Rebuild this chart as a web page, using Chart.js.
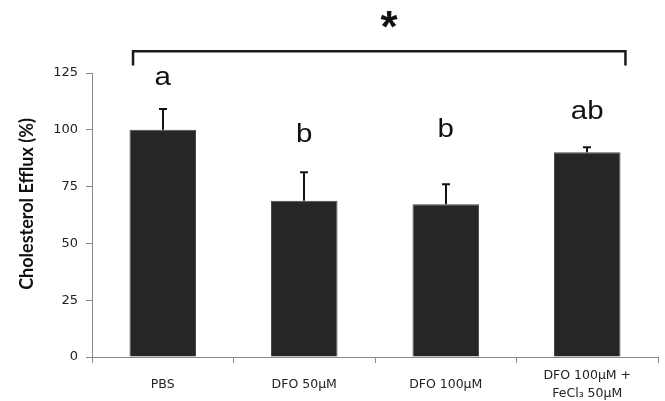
<!DOCTYPE html>
<html><head><meta charset="utf-8">
<script src="https://cdn.jsdelivr.net/npm/chart.js@4/dist/chart.umd.min.js"></script>
<style>html,body{margin:0;padding:0;background:#fff}#wrap{width:665px;height:401px;position:relative}</style>
</head><body><div id="wrap"><canvas id="c" width="665" height="401"></canvas></div>
<script>
// ---- data ----
const categories = ['PBS', 'DFO 50μM', 'DFO 100μM', ['DFO 100μM +', 'FeCl₃ 50μM']];
const means = [100, 68.8, 67.2, 90.1];
const errors = [9.1, 12.5, 8.8, 2.2];
const letters = ['a', 'b', 'b', 'ab'];
const yTicks = [0, 25, 50, 75, 100, 125];
const yTitle = 'Cholesterol Efflux (%)';
const sigMark = '*';

// ---- annotation placement (style/layout, in axis units) ----
const annot = {
  letterY: [123, 99, 101, 109],
  bracketX: [-0.21, 3.27],
  bracketTop: 134.6,
  bracketEnd: 128.3,
  starX: 1.6,
  starY: 148.5,
  titleX: 27,
  titleY: 204
};

function drawCenteredText(ctx, txt, cx, cy, font, sx, rot) {
  ctx.save();
  ctx.font = font;
  ctx.textAlign = 'center';
  ctx.textBaseline = 'alphabetic';
  const m = ctx.measureText(txt);
  const asc = m.actualBoundingBoxAscent, desc = m.actualBoundingBoxDescent;
  ctx.translate(cx, cy);
  if (rot) ctx.rotate(rot);
  ctx.scale(sx, 1);
  ctx.fillText(txt, 0, (asc - desc) / 2);
  ctx.restore();
}

const overlay = {
  id: 'overlay',
  afterDraw(chart) {
    const { ctx, scales: { x, y } } = chart;
    ctx.save();
    // error bars
    ctx.strokeStyle = '#111';
    ctx.lineWidth = 2;
    means.forEach((m, i) => {
      const px = Math.round(x.getPixelForValue(i));
      const y0 = y.getPixelForValue(m), y1 = y.getPixelForValue(m + errors[i]);
      ctx.beginPath();
      ctx.moveTo(px, y0); ctx.lineTo(px, y1);
      ctx.moveTo(px - 4, y1); ctx.lineTo(px + 4, y1);
      ctx.stroke();
    });
    // letters
    ctx.fillStyle = '#111';
    letters.forEach((t, i) => {
      drawCenteredText(ctx, t, x.getPixelForValue(i), y.getPixelForValue(annot.letterY[i]),
        '25px "Liberation Sans", Arial, sans-serif', 1.18, 0);
    });
    // bracket
    const bx0 = x.getPixelForValue(annot.bracketX[0]);
    const bx1 = x.getPixelForValue(annot.bracketX[1]);
    const byT = y.getPixelForValue(annot.bracketTop);
    const byE = y.getPixelForValue(annot.bracketEnd);
    ctx.strokeStyle = '#1a1a1a';
    ctx.lineWidth = 2.5;
    ctx.lineJoin = 'miter';
    ctx.beginPath();
    ctx.moveTo(bx0, byE); ctx.lineTo(bx0, byT); ctx.lineTo(bx1, byT); ctx.lineTo(bx1, byE);
    ctx.stroke();
    // star
    drawCenteredText(ctx, sigMark, x.getPixelForValue(annot.starX), y.getPixelForValue(annot.starY),
      'bold 44px "Liberation Sans", Arial, sans-serif', 1.0, 0);
    // y axis title
    drawCenteredText(ctx, yTitle, annot.titleX, annot.titleY,
      'bold 18px Lato, sans-serif', 1.0, -Math.PI / 2);
    ctx.restore();
  }
};

new Chart(document.getElementById('c'), {
  type: 'bar',
  data: {
    labels: categories,
    datasets: [{
      data: means,
      backgroundColor: '#262626',
      borderColor: '#4a4a4a',
      borderWidth: 1,
      barPercentage: 0.47,
      categoryPercentage: 1.0
    }]
  },
  options: {
    responsive: false,
    animation: false,
    devicePixelRatio: 1,
    layout: { padding: { top: 73, right: 7, bottom: 0, left: 0 } },
    plugins: { legend: { display: false }, tooltip: { enabled: false } },
    scales: {
      x: {
        grid: { offset: true, drawOnChartArea: false, drawTicks: true, tickLength: 6, color: '#888' },
        border: { color: '#888', width: 1 },
        ticks: {
          font: { family: '"DejaVu Sans", sans-serif', size: 12.5, lineHeight: 1.45 },
          color: '#222', padding: 13, crossAlign: 'center', maxRotation: 0, autoSkip: false
        },
        afterFit: s => { s.height = 44; }
      },
      y: {
        min: 0, max: 125,
        afterBuildTicks: s => { s.ticks = yTicks.map(v => ({ value: v })); },
        grid: { drawOnChartArea: false, drawTicks: true, tickLength: 6, color: '#888' },
        border: { color: '#888', width: 1 },
        ticks: { font: { family: '"DejaVu Sans", sans-serif', size: 13 }, color: '#222', padding: 8 },
        title: { display: false },
        afterFit: s => { s.width = 92; }
      }
    }
  },
  plugins: [overlay]
});
</script></body></html>
